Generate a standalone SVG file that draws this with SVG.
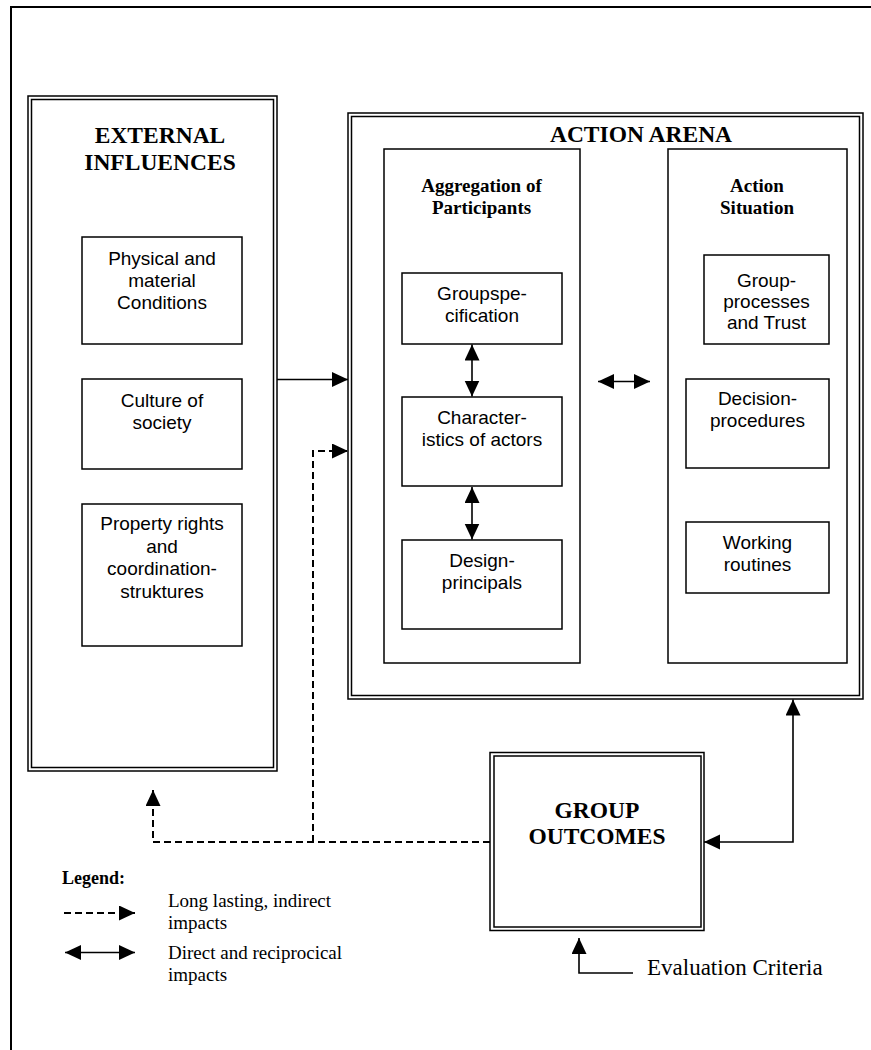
<svg xmlns="http://www.w3.org/2000/svg" width="871" height="1050" viewBox="0 0 871 1050">
<style>
.b{fill:#fff;stroke:#000;stroke-width:1.5}
.d{fill:none;stroke:#000;stroke-width:1.5}
.t{font-family:"Liberation Sans",Arial,sans-serif;font-size:19px;text-anchor:middle;fill:#000}
.h{font-family:"Liberation Serif","Times New Roman",serif;font-weight:bold;font-size:23.5px;text-anchor:middle;fill:#000}
.h2{font-family:"Liberation Serif","Times New Roman",serif;font-weight:bold;font-size:19px;text-anchor:middle;fill:#000}
.s{font-family:"Liberation Serif","Times New Roman",serif;font-size:19px;fill:#000}
.c{fill:none;stroke:#000;stroke-width:1.6}
.dash{fill:none;stroke:#000;stroke-width:2;stroke-dasharray:7,4}
</style>
<defs>
<marker id="ah" markerUnits="userSpaceOnUse" markerWidth="17" markerHeight="16" refX="16" refY="7.5" orient="auto-start-reverse" viewBox="0 0 17 16">
<path d="M0,0 L16,7.5 L0,15 z" fill="#000"/>
</marker>
</defs>
<g id="frame">
<path d="M11,1050 L11,7 L871,7" fill="none" stroke="#000" stroke-width="2"/>
</g>
<g id="external">
<rect class="d" x="28" y="96" width="249" height="675"/>
<rect class="b" x="31.5" y="99.5" width="242" height="668"/>
<text class="h" x="160" y="142.5">EXTERNAL</text>
<text class="h" x="160" y="170">INFLUENCES</text>
</g>
<g id="physical">
<rect class="b" x="82" y="237" width="160" height="107"/>
<text class="t" x="162" y="265">Physical and</text>
<text class="t" x="162" y="287">material</text>
<text class="t" x="162" y="309">Conditions</text>
</g>
<g id="culture">
<rect class="b" x="82" y="379" width="160" height="90"/>
<text class="t" x="162" y="406.5">Culture of</text>
<text class="t" x="162" y="429">society</text>
</g>
<g id="property">
<rect class="b" x="82" y="504" width="160" height="142"/>
<text class="t" x="162" y="530">Property rights</text>
<text class="t" x="162" y="552.5">and</text>
<text class="t" x="162" y="575">coordination-</text>
<text class="t" x="162" y="598">struktures</text>
</g>
<g id="arena">
<rect class="d" x="348" y="113" width="515" height="586"/>
<rect class="b" x="351.5" y="116.5" width="508" height="579"/>
<text class="h" x="641" y="141.5">ACTION ARENA</text>
</g>
<g id="aggregation">
<rect class="b" x="384" y="149" width="196" height="514"/>
<text class="h2" x="481.5" y="191.5">Aggregation of</text>
<text class="h2" x="481.5" y="214">Participants</text>
</g>
<g id="groupspec">
<rect class="b" x="402" y="273" width="160" height="71"/>
<text class="t" x="482" y="299.5">Groupspe-</text>
<text class="t" x="482" y="321.5">cification</text>
</g>
<g id="characteristics">
<rect class="b" x="402" y="397" width="160" height="89"/>
<text class="t" x="482" y="424">Character-</text>
<text class="t" x="482" y="446">istics of actors</text>
</g>
<g id="design">
<rect class="b" x="402" y="540" width="160" height="89"/>
<text class="t" x="482" y="567">Design-</text>
<text class="t" x="482" y="589">principals</text>
</g>
<g id="situation">
<rect class="b" x="668" y="149" width="179" height="514"/>
<text class="h2" x="757" y="191.5">Action</text>
<text class="h2" x="757" y="214">Situation</text>
</g>
<g id="groupprocesses">
<rect class="b" x="704" y="255" width="125" height="89"/>
<text class="t" x="766.5" y="287">Group-</text>
<text class="t" x="766.5" y="308">processes</text>
<text class="t" x="766.5" y="329">and Trust</text>
</g>
<g id="decision">
<rect class="b" x="686" y="379" width="143" height="89"/>
<text class="t" x="757.5" y="405">Decision-</text>
<text class="t" x="757.5" y="427">procedures</text>
</g>
<g id="working">
<rect class="b" x="686" y="522" width="143" height="71"/>
<text class="t" x="757.5" y="549">Working</text>
<text class="t" x="757.5" y="571">routines</text>
</g>
<g id="outcomes">
<rect class="d" x="490" y="752.5" width="214" height="178"/>
<rect class="b" x="494" y="756" width="207" height="171"/>
<text class="h" x="597" y="817.5">GROUP</text>
<text class="h" x="597" y="844">OUTCOMES</text>
</g>
<g id="connectors">
<path class="c" d="M277,379.5 L348,379.5" marker-end="url(#ah)"/>
<path class="dash" d="M490,842 L153,842 L153,790" marker-end="url(#ah)"/>
<path class="dash" d="M313,842 L313,451 L348,451" marker-end="url(#ah)"/>
<path class="c" d="M472,344.5 L472,396.5" marker-start="url(#ah)" marker-end="url(#ah)"/>
<path class="c" d="M472,487 L472,539.5" marker-start="url(#ah)" marker-end="url(#ah)"/>
<path class="c" d="M598,381.5 L650,381.5" marker-start="url(#ah)" marker-end="url(#ah)"/>
<path class="c" d="M793,699.5 L793,842 L704,842" marker-start="url(#ah)" marker-end="url(#ah)"/>
<path class="c" d="M633,973 L579,973 L579,938" marker-end="url(#ah)"/>
</g>
<g id="evaluation">
<text x="647" y="975" font-family="Liberation Serif,Times New Roman,serif" font-size="23px" fill="#000">Evaluation Criteria</text>
</g>
<g id="legend">
<text x="62" y="884" font-family="Liberation Serif,Times New Roman,serif" font-weight="bold" font-size="18px" fill="#000">Legend:</text>
<path class="dash" d="M64,913 L135,913" marker-end="url(#ah)"/>
<path class="c" d="M65,952.5 L135,952.5" marker-start="url(#ah)" marker-end="url(#ah)"/>
<text class="s" x="168" y="906.5">Long lasting, indirect</text>
<text class="s" x="168" y="928.5">impacts</text>
<text class="s" x="168" y="958.5">Direct and reciprocical</text>
<text class="s" x="168" y="981">impacts</text>
</g>
</svg>
